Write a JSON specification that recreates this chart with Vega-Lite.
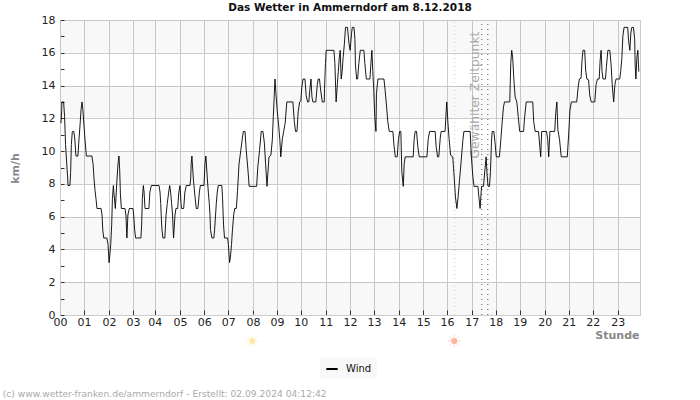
{"$schema":"https://vega.github.io/schema/vega-lite/v6.json","width":580,"height":295,"autosize":"none","padding":{"left":60,"top":20,"right":60,"bottom":85},"background":"white","title":{"text":"Das Wetter in Ammerndorf am 8.12.2018","font":"DejaVu Sans","fontSize":10.5,"fontWeight":"bold","color":"#111","anchor":"middle","offset":1},"config":{"view":{"stroke":"#ccc"},"font":"DejaVu Sans"},"encoding":{"x":{"field":"hour","type":"quantitative","scale":{"domain":[0,24.01],"nice":false},"axis":{"values":[0,0.99,2.03,3.02,3.92,4.97,5.97,6.97,7.99,8.98,9.97,11,12.01,13,14.02,15.04,16.02,17.05,18.04,19.03,20.07,21.06,22.05,23.09],"labelExpr":"format(round(datum.value),'02d')","labelFontSize":11,"labelColor":"#222","labelAngle":0,"labelPadding":6,"labelFlush":false,"tickColor":"#333","tickSize":-5,"grid":true,"gridColor":"#ccc","domainColor":"#ccc","title":"Stunde","titleFontSize":11,"titleFontWeight":"bold","titleColor":"#888","titleAnchor":"end","titleX":579,"titleY":23,"titleAlign":"right","titleBaseline":"alphabetic"}},"y":{"field":"kmh","type":"quantitative","scale":{"domain":[0,18],"nice":false},"axis":{"values":[0,1,2,3,4,5,6,7,8,9,10,11,12,13,14,15,16,17,18],"labelExpr":"datum.value%2==0?datum.label:''","labelFontSize":11,"labelColor":"#222","labelPadding":9,"labelFlush":false,"tickColor":"#333","tickSize":-4,"grid":true,"gridColor":"#ccc","gridOpacity":{"condition":{"test":"datum.value%2==1","value":0},"value":1},"domainColor":"#ccc","title":"km/h","titleFontSize":11,"titleFontWeight":"bold","titleColor":"#888","titleX":-45,"titleY":148,"titleAngle":270,"titleBaseline":"middle"}}},"layer":[{"data":{"values":[{"hour":0,"end":24.01,"kmh":0,"to":2},{"hour":0,"end":24.01,"kmh":4,"to":6},{"hour":0,"end":24.01,"kmh":8,"to":10},{"hour":0,"end":24.01,"kmh":12,"to":14},{"hour":0,"end":24.01,"kmh":16,"to":18}]},"mark":{"type":"rect","fill":"#000","opacity":0.027},"encoding":{"x2":{"field":"end"},"y2":{"field":"to"}}},{"data":{"values":[{"hour":7.99,"kmh":0,"to":18}]},"mark":{"type":"rule","stroke":"#f8ec9c","strokeDash":[1,3],"strokeWidth":1},"encoding":{"y2":{"field":"to"}}},{"data":{"values":[{"hour":16.34,"kmh":0,"to":18}]},"mark":{"type":"rule","stroke":"#f7c48c","strokeDash":[1,3],"strokeWidth":1},"encoding":{"y2":{"field":"to"}}},{"data":{"values":[{"hour":17.46,"kmh":0,"to":18},{"hour":17.71,"kmh":0,"to":18}]},"mark":{"type":"rule","stroke":"#555","strokeDash":[1,4],"strokeWidth":1},"encoding":{"y2":{"field":"to"}}},{"data":{"values":[{"hour":17.16,"kmh":9.55,"label":"Gewählter Zeitpunkt"}]},"mark":{"type":"text","angle":270,"align":"left","baseline":"middle","fontSize":12.3,"color":"#aaa"},"encoding":{"text":{"field":"label"}}},{"data":{"name":"wind","values":[{"hour":0.04,"kmh":11.7},{"hour":0.07,"kmh":12.5},{"hour":0.08,"kmh":13},{"hour":0.15,"kmh":13},{"hour":0.19,"kmh":12.1},{"hour":0.23,"kmh":10.4},{"hour":0.28,"kmh":9.2},{"hour":0.32,"kmh":8.3},{"hour":0.33,"kmh":7.9},{"hour":0.41,"kmh":7.9},{"hour":0.44,"kmh":8.7},{"hour":0.47,"kmh":10.4},{"hour":0.51,"kmh":11.2},{"hour":0.57,"kmh":11.2},{"hour":0.61,"kmh":10.8},{"hour":0.66,"kmh":9.7},{"hour":0.74,"kmh":9.7},{"hour":0.79,"kmh":10.8},{"hour":0.83,"kmh":11.6},{"hour":0.87,"kmh":12.5},{"hour":0.91,"kmh":13},{"hour":0.95,"kmh":12.5},{"hour":0.99,"kmh":11.6},{"hour":1.03,"kmh":10.8},{"hour":1.09,"kmh":9.7},{"hour":1.32,"kmh":9.7},{"hour":1.37,"kmh":9.2},{"hour":1.41,"kmh":8.3},{"hour":1.45,"kmh":7.6},{"hour":1.49,"kmh":7.1},{"hour":1.53,"kmh":6.5},{"hour":1.7,"kmh":6.5},{"hour":1.74,"kmh":6.1},{"hour":1.77,"kmh":5.2},{"hour":1.81,"kmh":4.7},{"hour":1.94,"kmh":4.7},{"hour":1.99,"kmh":4.3},{"hour":2.03,"kmh":3.2},{"hour":2.06,"kmh":3.6},{"hour":2.1,"kmh":4.3},{"hour":2.14,"kmh":5.5},{"hour":2.17,"kmh":7.1},{"hour":2.21,"kmh":7.9},{"hour":2.23,"kmh":7.5},{"hour":2.29,"kmh":6.5},{"hour":2.33,"kmh":7.5},{"hour":2.36,"kmh":8.3},{"hour":2.4,"kmh":9.2},{"hour":2.44,"kmh":9.7},{"hour":2.47,"kmh":8.9},{"hour":2.5,"kmh":7.4},{"hour":2.54,"kmh":6.5},{"hour":2.69,"kmh":6.5},{"hour":2.73,"kmh":6.1},{"hour":2.77,"kmh":4.7},{"hour":2.81,"kmh":6.1},{"hour":2.87,"kmh":6.5},{"hour":3.02,"kmh":6.5},{"hour":3.05,"kmh":6.1},{"hour":3.09,"kmh":5.2},{"hour":3.13,"kmh":4.7},{"hour":3.35,"kmh":4.7},{"hour":3.38,"kmh":5.5},{"hour":3.41,"kmh":7.1},{"hour":3.45,"kmh":7.9},{"hour":3.48,"kmh":7.5},{"hour":3.52,"kmh":6.5},{"hour":3.68,"kmh":6.5},{"hour":3.72,"kmh":7.5},{"hour":3.78,"kmh":7.9},{"hour":4.1,"kmh":7.9},{"hour":4.14,"kmh":7.5},{"hour":4.17,"kmh":6.8},{"hour":4.19,"kmh":6.1},{"hour":4.22,"kmh":5.2},{"hour":4.26,"kmh":4.7},{"hour":4.34,"kmh":4.7},{"hour":4.39,"kmh":6.1},{"hour":4.44,"kmh":6.8},{"hour":4.5,"kmh":7.5},{"hour":4.54,"kmh":7.9},{"hour":4.58,"kmh":7.5},{"hour":4.62,"kmh":6.8},{"hour":4.66,"kmh":6.1},{"hour":4.7,"kmh":4.7},{"hour":4.76,"kmh":6.1},{"hour":4.8,"kmh":6.5},{"hour":4.87,"kmh":6.5},{"hour":4.92,"kmh":7.5},{"hour":4.97,"kmh":7.9},{"hour":5.01,"kmh":6.8},{"hour":5.03,"kmh":6.5},{"hour":5.12,"kmh":6.5},{"hour":5.17,"kmh":7.5},{"hour":5.23,"kmh":7.9},{"hour":5.38,"kmh":7.9},{"hour":5.41,"kmh":8.3},{"hour":5.43,"kmh":9.2},{"hour":5.46,"kmh":9.7},{"hour":5.52,"kmh":8.3},{"hour":5.57,"kmh":7.5},{"hour":5.64,"kmh":6.5},{"hour":5.71,"kmh":6.5},{"hour":5.77,"kmh":7.5},{"hour":5.81,"kmh":7.9},{"hour":5.96,"kmh":7.9},{"hour":6,"kmh":9.2},{"hour":6.04,"kmh":9.7},{"hour":6.1,"kmh":8.3},{"hour":6.14,"kmh":7.5},{"hour":6.18,"kmh":6.8},{"hour":6.21,"kmh":6.1},{"hour":6.23,"kmh":5.2},{"hour":6.29,"kmh":4.7},{"hour":6.37,"kmh":4.7},{"hour":6.4,"kmh":5.2},{"hour":6.44,"kmh":6.1},{"hour":6.47,"kmh":6.8},{"hour":6.51,"kmh":7.5},{"hour":6.55,"kmh":7.9},{"hour":6.7,"kmh":7.9},{"hour":6.73,"kmh":7.1},{"hour":6.77,"kmh":5.5},{"hour":6.81,"kmh":4.7},{"hour":6.94,"kmh":4.7},{"hour":6.97,"kmh":4.3},{"hour":7.02,"kmh":3.2},{"hour":7.06,"kmh":3.6},{"hour":7.1,"kmh":4.3},{"hour":7.14,"kmh":5.2},{"hour":7.19,"kmh":6.1},{"hour":7.23,"kmh":6.5},{"hour":7.3,"kmh":6.5},{"hour":7.35,"kmh":7.6},{"hour":7.41,"kmh":9.2},{"hour":7.48,"kmh":10},{"hour":7.54,"kmh":10.7},{"hour":7.59,"kmh":11.2},{"hour":7.66,"kmh":11.2},{"hour":7.71,"kmh":10.05},{"hour":7.78,"kmh":8.85},{"hour":7.83,"kmh":7.85},{"hour":8.14,"kmh":7.85},{"hour":8.19,"kmh":9.05},{"hour":8.26,"kmh":10.05},{"hour":8.33,"kmh":11.2},{"hour":8.4,"kmh":11.2},{"hour":8.46,"kmh":10.5},{"hour":8.51,"kmh":9.25},{"hour":8.57,"kmh":7.85},{"hour":8.65,"kmh":9.65},{"hour":8.73,"kmh":9.75},{"hour":8.79,"kmh":10.7},{"hour":8.83,"kmh":12.1},{"hour":8.9,"kmh":14.4},{"hour":8.94,"kmh":13.5},{"hour":8.99,"kmh":12.5},{"hour":9.05,"kmh":11.6},{"hour":9.1,"kmh":10.7},{"hour":9.14,"kmh":9.65},{"hour":9.2,"kmh":10.7},{"hour":9.26,"kmh":11.2},{"hour":9.32,"kmh":11.7},{"hour":9.39,"kmh":13},{"hour":9.64,"kmh":13},{"hour":9.7,"kmh":11.8},{"hour":9.75,"kmh":11.2},{"hour":9.81,"kmh":11.2},{"hour":9.86,"kmh":12.4},{"hour":9.92,"kmh":13},{"hour":9.97,"kmh":13.05},{"hour":10.01,"kmh":13.9},{"hour":10.06,"kmh":14.4},{"hour":10.14,"kmh":14.4},{"hour":10.19,"kmh":13.4},{"hour":10.25,"kmh":13},{"hour":10.3,"kmh":13},{"hour":10.34,"kmh":13.7},{"hour":10.39,"kmh":14.4},{"hour":10.43,"kmh":13.3},{"hour":10.47,"kmh":13},{"hour":10.59,"kmh":13},{"hour":10.65,"kmh":14.05},{"hour":10.69,"kmh":14.4},{"hour":10.74,"kmh":14.4},{"hour":10.8,"kmh":13.6},{"hour":10.86,"kmh":13},{"hour":10.94,"kmh":13},{"hour":10.95,"kmh":13.8},{"hour":10.99,"kmh":15.35},{"hour":11.02,"kmh":16.15},{"hour":11.34,"kmh":16.15},{"hour":11.38,"kmh":15.35},{"hour":11.41,"kmh":13.9},{"hour":11.43,"kmh":13},{"hour":11.48,"kmh":14.05},{"hour":11.52,"kmh":14.85},{"hour":11.56,"kmh":15.7},{"hour":11.6,"kmh":16.15},{"hour":11.64,"kmh":14.4},{"hour":11.68,"kmh":14.85},{"hour":11.72,"kmh":15.7},{"hour":11.77,"kmh":16.5},{"hour":11.82,"kmh":17.55},{"hour":11.9,"kmh":17.55},{"hour":11.96,"kmh":16.6},{"hour":12.01,"kmh":16.15},{"hour":12.07,"kmh":17.2},{"hour":12.1,"kmh":17.55},{"hour":12.17,"kmh":17.55},{"hour":12.21,"kmh":16.8},{"hour":12.23,"kmh":15.25},{"hour":12.28,"kmh":14.4},{"hour":12.32,"kmh":14.4},{"hour":12.37,"kmh":15.35},{"hour":12.43,"kmh":16.15},{"hour":12.58,"kmh":16.15},{"hour":12.62,"kmh":15.35},{"hour":12.68,"kmh":14.4},{"hour":12.83,"kmh":14.4},{"hour":12.87,"kmh":15.35},{"hour":12.91,"kmh":16.15},{"hour":12.95,"kmh":14.85},{"hour":12.99,"kmh":13.7},{"hour":13.03,"kmh":12.1},{"hour":13.08,"kmh":11.2},{"hour":13.1,"kmh":13.5},{"hour":13.16,"kmh":14.4},{"hour":13.41,"kmh":14.4},{"hour":13.46,"kmh":13.7},{"hour":13.52,"kmh":12.7},{"hour":13.57,"kmh":11.8},{"hour":13.63,"kmh":11.2},{"hour":13.78,"kmh":11.2},{"hour":13.83,"kmh":10.3},{"hour":13.88,"kmh":9.65},{"hour":13.96,"kmh":9.65},{"hour":14.01,"kmh":10.7},{"hour":14.06,"kmh":11.2},{"hour":14.11,"kmh":11.2},{"hour":14.15,"kmh":8.75},{"hour":14.21,"kmh":7.85},{"hour":14.25,"kmh":9.25},{"hour":14.29,"kmh":9.65},{"hour":14.62,"kmh":9.65},{"hour":14.66,"kmh":10.7},{"hour":14.7,"kmh":11.2},{"hour":14.76,"kmh":11.2},{"hour":14.81,"kmh":10.3},{"hour":14.87,"kmh":9.65},{"hour":15.19,"kmh":9.65},{"hour":15.24,"kmh":10.7},{"hour":15.3,"kmh":11.2},{"hour":15.53,"kmh":11.2},{"hour":15.57,"kmh":10.3},{"hour":15.63,"kmh":9.65},{"hour":15.68,"kmh":9.65},{"hour":15.74,"kmh":10.8},{"hour":15.78,"kmh":11.2},{"hour":15.94,"kmh":11.2},{"hour":15.99,"kmh":12.5},{"hour":16.01,"kmh":13},{"hour":16.06,"kmh":11.7},{"hour":16.11,"kmh":10.7},{"hour":16.17,"kmh":9.75},{"hour":16.26,"kmh":9.65},{"hour":16.32,"kmh":8.35},{"hour":16.37,"kmh":7.2},{"hour":16.43,"kmh":6.5},{"hour":16.48,"kmh":7.2},{"hour":16.54,"kmh":8.25},{"hour":16.61,"kmh":9.45},{"hour":16.68,"kmh":10.7},{"hour":16.72,"kmh":11.2},{"hour":16.98,"kmh":11.2},{"hour":17.03,"kmh":9.65},{"hour":17.09,"kmh":8.45},{"hour":17.14,"kmh":7.85},{"hour":17.3,"kmh":7.85},{"hour":17.34,"kmh":7.2},{"hour":17.39,"kmh":6.5},{"hour":17.45,"kmh":7.85},{"hour":17.53,"kmh":7.85},{"hour":17.59,"kmh":8.85},{"hour":17.64,"kmh":9.65},{"hour":17.68,"kmh":8.55},{"hour":17.72,"kmh":7.85},{"hour":17.78,"kmh":7.85},{"hour":17.82,"kmh":8.75},{"hour":17.86,"kmh":10.5},{"hour":17.89,"kmh":11.2},{"hour":17.96,"kmh":11.2},{"hour":18.01,"kmh":10.5},{"hour":18.06,"kmh":9.65},{"hour":18.19,"kmh":9.65},{"hour":18.25,"kmh":10.7},{"hour":18.3,"kmh":11.7},{"hour":18.36,"kmh":12.7},{"hour":18.4,"kmh":13},{"hour":18.62,"kmh":13},{"hour":18.66,"kmh":15.35},{"hour":18.7,"kmh":16.15},{"hour":18.74,"kmh":15.7},{"hour":18.79,"kmh":14.35},{"hour":18.84,"kmh":13.3},{"hour":18.91,"kmh":13},{"hour":18.97,"kmh":12.1},{"hour":19.03,"kmh":11.2},{"hour":19.19,"kmh":11.2},{"hour":19.23,"kmh":12},{"hour":19.3,"kmh":13},{"hour":19.57,"kmh":13},{"hour":19.61,"kmh":11.8},{"hour":19.67,"kmh":11.2},{"hour":19.81,"kmh":11.2},{"hour":19.86,"kmh":10.3},{"hour":19.9,"kmh":9.65},{"hour":19.94,"kmh":11.2},{"hour":20.14,"kmh":11.2},{"hour":20.19,"kmh":10.7},{"hour":20.23,"kmh":9.65},{"hour":20.28,"kmh":11.2},{"hour":20.48,"kmh":11.2},{"hour":20.52,"kmh":12.3},{"hour":20.57,"kmh":13},{"hour":20.61,"kmh":11.3},{"hour":20.68,"kmh":10.7},{"hour":20.75,"kmh":9.65},{"hour":21,"kmh":9.65},{"hour":21.06,"kmh":11.1},{"hour":21.11,"kmh":12.5},{"hour":21.17,"kmh":13},{"hour":21.39,"kmh":13},{"hour":21.45,"kmh":13.9},{"hour":21.5,"kmh":14.4},{"hour":21.57,"kmh":14.45},{"hour":21.61,"kmh":15.55},{"hour":21.65,"kmh":16.15},{"hour":21.72,"kmh":16.15},{"hour":21.76,"kmh":14.95},{"hour":21.81,"kmh":14.4},{"hour":21.88,"kmh":14.35},{"hour":21.93,"kmh":13.4},{"hour":21.99,"kmh":13},{"hour":22.14,"kmh":13},{"hour":22.19,"kmh":14.05},{"hour":22.25,"kmh":14.4},{"hour":22.32,"kmh":14.4},{"hour":22.36,"kmh":15.55},{"hour":22.4,"kmh":16.15},{"hour":22.44,"kmh":14.85},{"hour":22.48,"kmh":14.4},{"hour":22.58,"kmh":14.4},{"hour":22.62,"kmh":15.15},{"hour":22.68,"kmh":16.15},{"hour":22.76,"kmh":16.15},{"hour":22.81,"kmh":15.35},{"hour":22.86,"kmh":14.05},{"hour":22.92,"kmh":13},{"hour":22.97,"kmh":14.05},{"hour":23.02,"kmh":14.4},{"hour":23.17,"kmh":14.4},{"hour":23.21,"kmh":14.85},{"hour":23.26,"kmh":15.7},{"hour":23.3,"kmh":17},{"hour":23.35,"kmh":17.55},{"hour":23.5,"kmh":17.55},{"hour":23.54,"kmh":16.7},{"hour":23.59,"kmh":16.15},{"hour":23.63,"kmh":17.2},{"hour":23.67,"kmh":17.55},{"hour":23.74,"kmh":17.55},{"hour":23.79,"kmh":16.8},{"hour":23.81,"kmh":15.25},{"hour":23.84,"kmh":14.4},{"hour":23.88,"kmh":15.7},{"hour":23.92,"kmh":16.15},{"hour":23.96,"kmh":14.85}]},"transform":[{"calculate":"'Wind'","as":"series"}],"mark":{"type":"line","strokeWidth":0.9,"interpolate":"linear"},"encoding":{"color":{"field":"series","type":"nominal","scale":{"range":["#000"]},"legend":{"orient":"none","legendX":260,"legendY":337,"title":null,"fillColor":"#f8f8f8","padding":5,"symbolType":"stroke","symbolStrokeWidth":2,"symbolSize":130,"labelFontSize":10,"labelOffset":7,"labelColor":"#111"}}}},{"data":{"values":[{"hour":7.96,"kmh":-1.59}]},"mark":{"type":"point","shape":"circle","filled":true,"size":36,"opacity":0.9,"color":"#ffe69a"}},{"data":{"values":[{"hour":16.32,"kmh":-1.59}]},"mark":{"type":"point","shape":"circle","filled":true,"size":36,"opacity":0.9,"color":"#ffab94"}},{"data":{"values":[{"hour":7.96,"kmh":-1.59}]},"mark":{"type":"point","filled":false,"size":150,"strokeWidth":0.8,"color":"#ffe69a","shape":"M-1 0L-.55 0M1 0L.55 0M0 -1L0 -.55M0 1L0 .55M-.7 -.7L-.4 -.4M.7 .7L.4 .4M-.7 .7L-.4 .4M.7 -.7L.4 -.4"}},{"data":{"values":[{"hour":16.32,"kmh":-1.59}]},"mark":{"type":"point","filled":false,"size":150,"strokeWidth":0.8,"color":"#ffab94","shape":"M-1 0L-.55 0M1 0L.55 0M0 -1L0 -.55M0 1L0 .55M-.7 -.7L-.4 -.4M.7 .7L.4 .4M-.7 .7L-.4 .4M.7 -.7L.4 -.4"}},{"data":{"values":[{"hour":-2.37,"kmh":-5,"label":"(c) www.wetter-franken.de/ammerndorf - Erstellt: 02.09.2024 04:12:42"}]},"mark":{"type":"text","align":"left","baseline":"alphabetic","fontSize":9.15,"color":"#aaa"},"encoding":{"text":{"field":"label"}}}]}
